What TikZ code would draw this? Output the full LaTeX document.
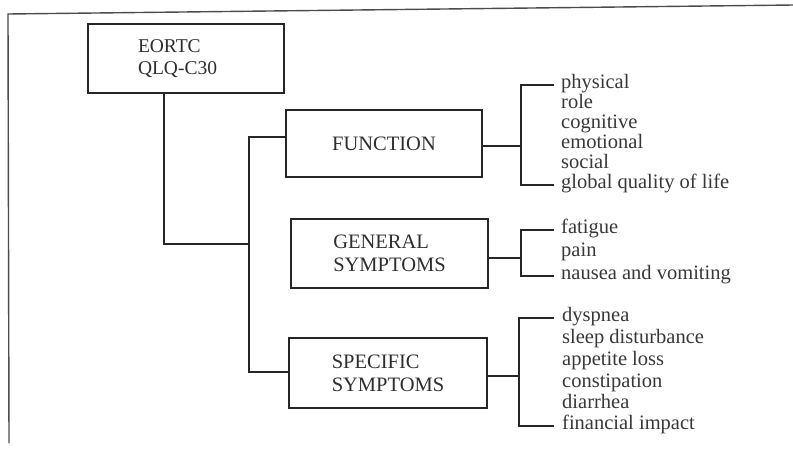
\documentclass[tikz,border=0pt]{standalone}
\usepackage{fontspec}
\setmainfont{Liberation Serif}
\newfontfamily\scanfont{Liberation Serif}
\begin{document}
\begin{tikzpicture}[x=1pt,y=-1pt,
  box/.style={draw=black!85, line width=1.6pt, font=\scanfont\fontsize{20.5}{23}\selectfont, text=black!82, align=left, inner sep=0pt},
  item/.style={anchor=base west, inner sep=0pt, font=\scanfont\fontsize{20.5}{23}\selectfont, text=black!78},
  conn/.style={draw=black!85, line width=1.6pt},
  frame/.style={draw=black!70, line width=1.4pt}]
\useasboundingbox (0,0) rectangle (793,448);
% frame
\draw[frame] (793,5) -- (8,14) -- (9,443);
% boxes
\node[box, minimum width=196pt, minimum height=69pt, text width=96pt, font=\scanfont\fontsize{19.5}{22}\selectfont] (eortc) at (186,58.5) {EORTC\\QLQ-C30};
\node[box, minimum width=196pt, minimum height=67pt] (func) at (384,143.5) {FUNCTION};
\node[box, minimum width=197pt, minimum height=69pt] (gen) at (389.5,253.5) {GENERAL\\SYMPTOMS};
\node[box, minimum width=198pt, minimum height=70pt] (spec) at (388,373) {SPECIFIC\\SYMPTOMS};
% items
\node[item] (f1) at (561,88) {physical};
\node[item] (f2) at (561,108) {role};
\node[item] (f3) at (561,128) {cognitive};
\node[item] (f4) at (561,148) {emotional};
\node[item] (f5) at (561,168) {social};
\node[item] (f6) at (561,188) {global quality of life};
\node[item] (g1) at (561,233) {fatigue};
\node[item] (g2) at (561,256) {pain};
\node[item] (g3) at (561,279) {nausea and vomiting};
\node[item] (s1) at (562,321) {dyspnea};
\node[item] (s2) at (562,343) {sleep disturbance};
\node[item] (s3) at (562,365) {appetite loss};
\node[item] (s4) at (562,387) {constipation};
\node[item] (s5) at (562,408) {diarrhea};
\node[item] (s6) at (562,429) {financial impact};
% trunk
\coordinate (j) at (249,244);
\draw[conn] ([xshift=-22pt]eortc.south) |- (j);
\draw[conn] ([yshift=6.5pt]func.west) -| (j) |- ([yshift=1pt]spec.west);
% brackets
\draw[conn] ([yshift=-2.5pt]func.east) -- ++(38,0) coordinate (fj);
\draw[conn] ([xshift=-7pt,yshift=3pt]f1.base west) -| (fj) |- ([xshift=-7pt,yshift=3pt]f6.base west);
\draw[conn] ([yshift=-4.5pt]gen.east) -- ++(32,0) coordinate (gj);
\draw[conn] ([xshift=-7pt,yshift=3pt]g1.base west) -| (gj) |- ([xshift=-7pt,yshift=3pt]g3.base west);
\draw[conn] ([yshift=-3pt]spec.east) -- ++(31,0) coordinate (sj);
\draw[conn] ([xshift=-8pt,yshift=3pt]s1.base west) -| (sj) |- ([xshift=-8pt,yshift=3pt]s6.base west);
\end{tikzpicture}
\end{document}
